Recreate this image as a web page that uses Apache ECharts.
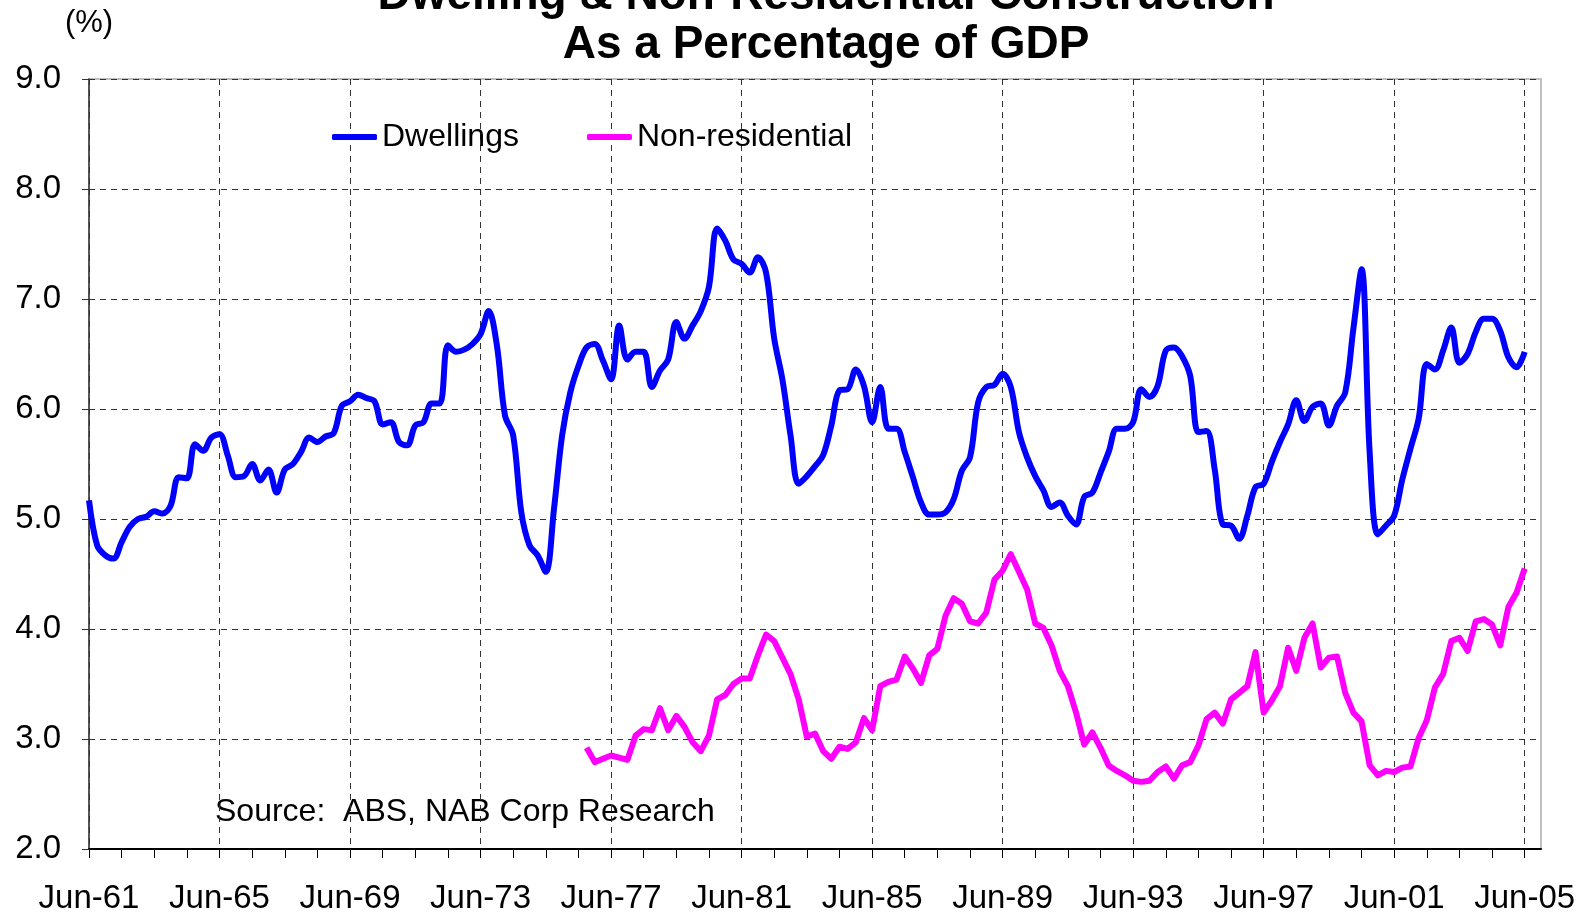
<!DOCTYPE html>
<html>
<head>
<meta charset="utf-8">
<title>Dwelling & Non-Residential Construction</title>
<script src="https://cdn.jsdelivr.net/npm/echarts@6/dist/echarts.min.js"></script>
<style>
    html, body { margin: 0; padding: 0; background: #fff; }
    #chart { width: 1589px; height: 916px; }
</style>
</head>
<body>
<div id="chart"></div>
<script>
// quarterly categories, Jun-61 .. Dec-05
let quarters = [];
let qMonths = ['Mar', 'Jun', 'Sep', 'Dec'];
for (let i = 0; i < 179; i++) {
    let m = i + 1;
    let year = 1961 + Math.floor(m / 4);
    quarters.push(qMonths[m % 4] + '-' + String(year % 100).padStart(2, '0'));
}

let yTicks = [2, 3, 4, 5, 6, 7, 8, 9];

// dwellings, % of GDP, from Jun-61
let dwellings = [
    5.17, 4.76, 4.67, 4.64, 4.79, 4.93, 5.00, 5.02, 5.07, 5.05,
    5.12, 5.38, 5.37, 5.68, 5.62, 5.74, 5.77, 5.58, 5.38, 5.39,
    5.50, 5.35, 5.45, 5.24, 5.45, 5.50, 5.61, 5.74, 5.70, 5.75,
    5.78, 6.03, 6.07, 6.13, 6.10, 6.07, 5.86, 5.88, 5.70, 5.67,
    5.85, 5.88, 6.05, 6.05, 6.58, 6.52, 6.54, 6.59, 6.68, 6.89,
    6.58, 5.94, 5.76, 5.06, 4.76, 4.67, 4.52, 5.09, 5.76, 6.15,
    6.39, 6.56, 6.59, 6.44, 6.27, 6.76, 6.45, 6.52, 6.52, 6.20,
    6.35, 6.45, 6.79, 6.64, 6.76, 6.89, 7.11, 7.64, 7.53, 7.36,
    7.32, 7.24, 7.38, 7.24, 6.64, 6.27, 5.76, 5.32, 5.39, 5.48,
    5.58, 5.85, 6.17, 6.18, 6.36, 6.21, 5.88, 6.20, 5.82, 5.82,
    5.61, 5.38, 5.15, 5.04, 5.04, 5.06, 5.18, 5.44, 5.56, 6.06,
    6.20, 6.22, 6.32, 6.20, 5.79, 5.56, 5.39, 5.26, 5.11, 5.15,
    5.03, 4.95, 5.20, 5.24, 5.42, 5.61, 5.82, 5.82, 5.88, 6.18,
    6.11, 6.21, 6.53, 6.56, 6.48, 6.30, 5.79, 5.80, 5.45, 4.95,
    4.94, 4.82, 5.03, 5.29, 5.32, 5.52, 5.70, 5.86, 6.08, 5.89,
    6.02, 6.05, 5.85, 6.03, 6.15, 6.73, 7.27, 5.60, 4.86, 4.94,
    5.03, 5.36, 5.64, 5.91, 6.41, 6.36, 6.53, 6.74, 6.42, 6.50,
    6.70, 6.82, 6.82, 6.71, 6.47, 6.38, 6.52
];

// non-residential, % of GDP, from Sep-76
let nonResStart = 'Sep-76';
let nonResidential = [
    2.92, 2.79, 2.82, 2.85, 2.83, 2.81, 3.03, 3.09, 3.08, 3.28,
    3.08, 3.21, 3.11, 2.97, 2.89, 3.03, 3.36, 3.40, 3.50, 3.55,
    3.55, 3.76, 3.95, 3.89, 3.74, 3.59, 3.36, 3.02, 3.05, 2.89,
    2.82, 2.93, 2.91, 2.97, 3.19, 3.08, 3.48, 3.52, 3.54, 3.75,
    3.64, 3.51, 3.76, 3.82, 4.12, 4.28, 4.23, 4.07, 4.05, 4.15,
    4.45, 4.53, 4.68, 4.52, 4.36, 4.05, 4.01, 3.85, 3.62, 3.48,
    3.24, 2.95, 3.06, 2.92, 2.76, 2.71, 2.67, 2.62, 2.61, 2.62,
    2.70, 2.75, 2.64, 2.76, 2.79, 2.94, 3.18, 3.24, 3.14, 3.36,
    3.42, 3.48, 3.79, 3.24, 3.35, 3.48, 3.83, 3.62, 3.92, 4.05,
    3.65, 3.74, 3.75, 3.42, 3.24, 3.16, 2.76, 2.67, 2.71, 2.70,
    2.74, 2.75, 3.01, 3.17, 3.47, 3.59, 3.89, 3.92, 3.80, 4.07,
    4.09, 4.04, 3.85, 4.20, 4.33, 4.55
];

let startIdx = quarters.indexOf(nonResStart);
let nonResData = quarters.map((q, i) => {
    let v = nonResidential[i - startIdx];
    return (i < startIdx || v === undefined) ? null : v;
});

let myChart = echarts.init(document.getElementById('chart'), null, { renderer: 'canvas' });

let font = 'Arial, "Liberation Sans", sans-serif';
let gridDash = { color: '#333', width: 1, type: [6, 5] };

let option = {
    backgroundColor: '#fff',
    animation: false,
    textStyle: { fontFamily: font },
    grid: {
        left: 89,
        right: 48,
        top: 79,
        bottom: 67,
        show: true,
        borderColor: '#c0c0c0',
        borderWidth: 2,
        outerBoundsMode: 'none'
    },
    legend: {
        left: 332,
        top: 121,
        padding: 0,
        itemWidth: 45,
        itemHeight: 6,
        itemGap: 68,
        icon: 'roundRect',
        textStyle: { fontSize: 32, color: '#000', fontFamily: font },
        data: ['Dwellings', 'Non-residential']
    },
    graphic: [
        // title, first line partly off the top edge
        {
            type: 'text',
            x: 826, y: -4,
            style: {
                text: 'Dwelling & Non-Residential Construction',
                font: 'bold 46px ' + font,
                fill: '#000',
                textAlign: 'center',
                textVerticalAlign: 'middle'
            }
        },
        {
            type: 'text',
            x: 826, y: 45,
            style: {
                text: 'As a Percentage of GDP',
                font: 'bold 46px ' + font,
                fill: '#000',
                textAlign: 'center',
                textVerticalAlign: 'middle'
            }
        },
        {
            type: 'text',
            x: 89, y: 23,
            style: {
                text: '(%)',
                font: '31px ' + font,
                fill: '#000',
                textAlign: 'center',
                textVerticalAlign: 'middle'
            }
        },
        {
            type: 'text',
            x: 215, y: 812,
            style: {
                text: 'Source:  ABS, NAB Corp Research',
                font: '32px ' + font,
                fill: '#000',
                textAlign: 'left',
                textVerticalAlign: 'middle'
            }
        }
    ],
    xAxis: {
        type: 'category',
        data: quarters,
        boundaryGap: false,
        axisLine: { lineStyle: { color: '#000', width: 2 } },
        axisTick: { interval: 3, length: 9, lineStyle: { color: '#000', width: 1 } },
        axisLabel: {
            interval: 15,
            margin: 33,
            fontSize: 33,
            color: '#000',
            fontFamily: font
        },
        splitLine: { show: true, interval: 15, lineStyle: gridDash }
    },
    yAxis: {
        type: 'value',
        min: yTicks[0],
        max: yTicks[yTicks.length - 1],
        interval: 1,
        axisLine: { show: true, lineStyle: { color: '#333', width: 1.5 } },
        axisTick: { show: true, length: 7, lineStyle: { color: '#333' } },
        axisLabel: {
            margin: 28,
            fontSize: 33,
            color: '#000',
            fontFamily: font,
            formatter: (v) => v.toFixed(1)
        },
        splitLine: { show: true, lineStyle: gridDash }
    },
    series: [
        {
            name: 'Dwellings',
            type: 'line',
            data: dwellings,
            smooth: 0.35,
            showSymbol: false,
            symbol: 'none',
            lineStyle: { color: '#0000ff', width: 6 },
            itemStyle: { color: '#0000ff' },
            z: 3
        },
        {
            name: 'Non-residential',
            type: 'line',
            data: nonResData,
            smooth: false,
            showSymbol: false,
            symbol: 'none',
            lineStyle: { color: '#ff00ff', width: 6, join: 'round' },
            itemStyle: { color: '#ff00ff' },
            z: 3
        }
    ]
};

myChart.setOption(option);
</script>
</body>
</html>
